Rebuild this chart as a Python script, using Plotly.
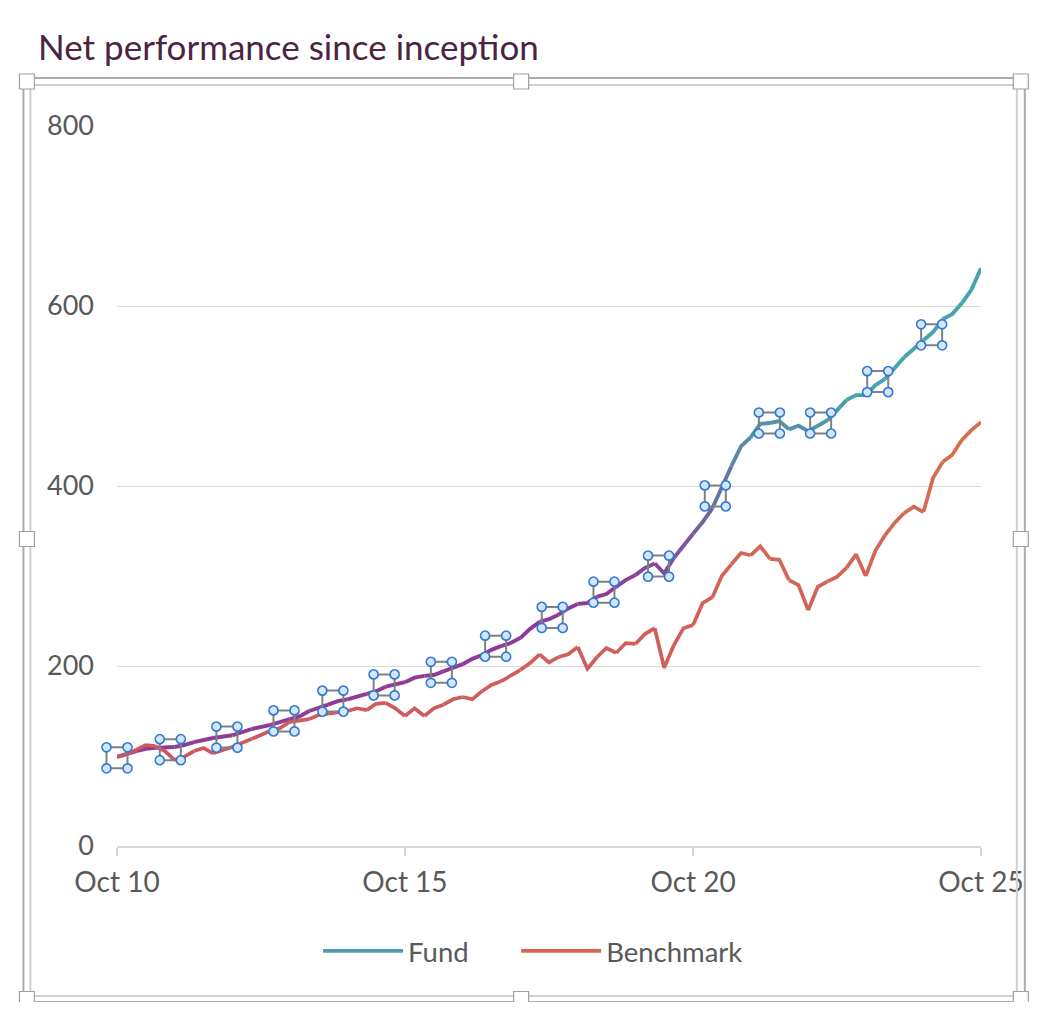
import pandas as pd
import plotly.graph_objects as go

# bi-monthly readings, Oct 2010 -> Oct 2025
dates = pd.date_range("2010-10-01", periods=91, freq="2MS")

fund = [99, 102, 105.5, 108, 109, 109, 110, 112, 115.5, 118,
        120, 121, 123, 127, 130, 132, 134.5, 138, 141, 144,
        150, 153, 157, 161, 163, 165.5, 169, 172, 177, 179,
        182, 187, 189, 190, 194, 198, 202, 208, 212, 218,
        222, 225.5, 231, 241, 249, 252, 257, 264, 269, 270,
        277, 280, 288, 295.5, 301, 309, 314, 303, 320, 334,
        347, 360, 375.5, 398, 422, 444, 454, 469, 470, 472,
        463, 467, 461, 467, 473, 484, 495.5, 501, 501, 512,
        519, 531, 543, 553, 562, 571, 585.5, 591, 603, 618,
        642]

benchmark = [99, 102, 107, 112, 111, 105.5, 95.5, 99, 105.5, 109,
             103, 107, 110, 114, 119, 123, 128, 131, 138, 140,
             141, 145.5, 147, 149, 150, 153, 151, 158, 159, 153,
             144.5, 153, 144.5, 153, 157, 163, 165.5, 163, 172, 179,
             183, 189, 195.5, 203, 213, 204, 210, 213, 221, 197,
             210, 220, 214.5, 225.5, 224.5, 235.5, 242, 198, 223, 242,
             245.5, 270, 276.5, 300, 313, 325.5, 323, 333, 319, 318,
             295.5, 290, 262, 288, 294, 299, 309, 324, 300, 328,
             345.5, 359, 370, 377, 371, 409, 427, 434.5, 451, 462,
             471]

tick_dates = ["2010-10-01", "2015-10-01", "2020-10-01", "2025-10-01"]
tick_text = ["Oct 10", "Oct 15", "Oct 20", "Oct 25"]
y_ticks = [0, 200, 400, 600, 800]

# selected label boxes sitting on the fund line
handle_dates = ["2010-10-01", "2011-09-04", "2012-08-28", "2013-08-25",
                "2014-07-01", "2015-05-22", "2016-05-19", "2017-04-28",
                "2018-04-22", "2019-03-16", "2020-02-25", "2021-02-19",
                "2022-01-28", "2022-12-19", "2023-12-16", "2024-11-22"]
handle_values = [98, 107, 121, 139, 161, 179, 193, 222,
                 254, 282, 311, 389, 470, 470, 516, 568]

# page has an 8px body margin, so the figure is a bit smaller than the window
W, H = 1028, 994
L, R, T, B = 109, 977, 118, 838  # plot area in pixels

GREY = "#595959"
FONT = "Lato"


def xp(px):
    return (px - L) / (R - L)


def yp(py):
    return (B - py) / (B - T)


def blend(c0, c1, t):
    a = [int(c0[i:i + 2], 16) for i in (1, 3, 5)]
    b = [int(c1[i:i + 2], 16) for i in (1, 3, 5)]
    return "rgb(%d,%d,%d)" % tuple(round(a[k] + (b[k] - a[k]) * t) for k in range(3))


def gradient_line(fig, x, y, c0, c1, width, stops=(0.0, 1.0), step=2):
    # excel-style gradient running with the value of the line
    n = len(x)
    lo, hi = min(y), max(y)
    s0, s1 = stops
    for i in range(0, n - 1, step):
        j = min(i + step, n - 1)
        seg = y[i:j + 1]
        t = (sum(seg) / len(seg) - lo) / (hi - lo)
        t = min(max((t - s0) / (s1 - s0), 0), 1)
        fig.add_trace(go.Scatter(
            x=x[i:j + 1], y=seg, mode="lines",
            line=dict(color=blend(c0, c1, t), width=width),
            showlegend=False, hoverinfo="skip"))


fig = go.Figure()

gradient_line(fig, list(dates), fund, "#8E3A96", "#45A5AE", 3.9, stops=(0.33, 0.74))
gradient_line(fig, list(dates), benchmark, "#CE5662", "#D6704D", 3.7)

# label handles: grey square with blue dots on the corners
fig.add_trace(go.Scatter(
    x=handle_dates, y=handle_values, mode="markers", cliponaxis=False,
    marker=dict(symbol="square-open", size=21, color="#808080",
                line=dict(width=2, color="#808080")),
    showlegend=False, hoverinfo="skip"))
for ang in (45, 135, 225, 315):
    fig.add_trace(go.Scatter(
        x=handle_dates, y=handle_values, mode="markers", cliponaxis=False,
        marker=dict(symbol="circle", size=9, color="#D6E6F8",
                    angle=ang, standoff=14.85,
                    line=dict(width=1.7, color="#2E7BD5")),
        showlegend=False, hoverinfo="skip"))

# legend-only entries, one legend each so the spacing can match
fig.add_trace(go.Scatter(x=[None], y=[None], mode="lines", name="Fund",
                         legend="legend",
                         line=dict(color="#4B9EAE", width=3.8)))
fig.add_trace(go.Scatter(x=[None], y=[None], mode="lines", name="Benchmark",
                         legend="legend2",
                         line=dict(color="#D4684F", width=3.8)))

shapes = []
# chart frame (double line) and resize handles
shapes.append(dict(type="rect", xref="paper", yref="paper",
                   x0=xp(15), x1=xp(1021), y0=yp(994), y1=yp(70),
                   line=dict(color="#ABABAB", width=2)))
shapes.append(dict(type="rect", xref="paper", yref="paper",
                   x0=xp(22), x1=xp(1013), y0=yp(988), y1=yp(77),
                   line=dict(color="#CFCFCF", width=2)))
for hx in (18.5, 515, 1017):
    for hy in (73.5, 531, 991):
        if hx == 515 and hy == 531:
            continue
        shapes.append(dict(type="rect", xref="paper", yref="paper",
                           xsizemode="pixel", ysizemode="pixel",
                           xanchor=xp(hx), yanchor=yp(hy),
                           x0=-7.5, x1=7.5, y0=-7.5, y1=7.5,
                           fillcolor="white", line=dict(color="#A0A0A0", width=1.2)))

legend_style = dict(orientation="h", xanchor="left", yanchor="middle",
                    y=yp(943), itemwidth=80,
                    font=dict(size=27.5, color=GREY))

fig.update_layout(
    width=W, height=H, autosize=False,
    margin=dict(l=L, r=W - R, t=T, b=H - B),
    paper_bgcolor="white", plot_bgcolor="white",
    font=dict(family=FONT, color=GREY, size=27),
    title=dict(text="Net performance since inception",
               font=dict(family=FONT, size=35, color="#4B2343"),
               xref="container", yref="container",
               x=30 / W, xanchor="left", y=1 - 40 / H, yanchor="middle"),
    xaxis=dict(type="date", range=["2010-10-01", "2025-10-01"],
               tickvals=tick_dates, ticktext=tick_text,
               showgrid=False, zeroline=False,
               showline=True, linecolor="#D9D9D9", linewidth=2,
               ticks="outside", ticklen=8, tickwidth=2, tickcolor="#D9D9D9",
               tickfont=dict(size=28, color=GREY), ticklabelstandoff=2),
    yaxis=dict(range=[0, 800], tickvals=y_ticks,
               showgrid=True, gridcolor="#D9D9D9", gridwidth=1,
               zeroline=False, showline=False, ticks="",
               tickfont=dict(size=27, color=GREY), ticklabelstandoff=22),
    legend=dict(legend_style, x=xp(311)),
    legend2=dict(legend_style, x=xp(510)),
    shapes=shapes,
    showlegend=True,
)

fig.write_html("out.html")
